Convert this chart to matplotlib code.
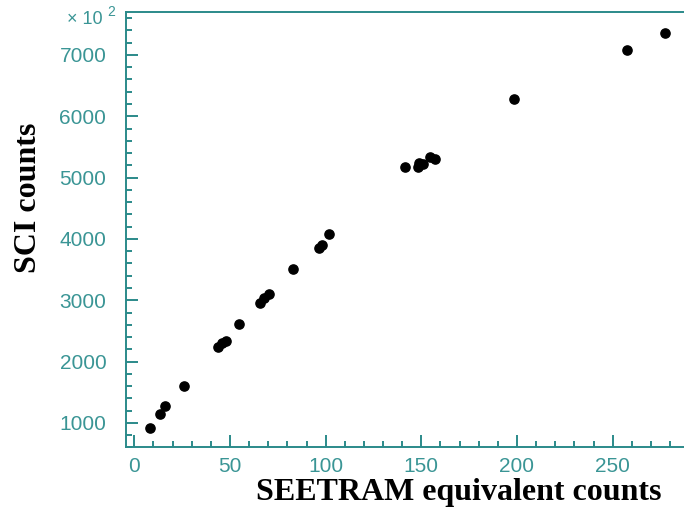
import matplotlib
matplotlib.use("Agg")
import matplotlib.pyplot as plt
from matplotlib.ticker import MultipleLocator

# SEETRAM equivalent counts vs SCI counts (y in units of 10^2)
seetram = [8.2, 13.4, 16.0, 26.1, 43.9, 45.8, 47.9, 54.7, 65.5, 68.0, 70.5,
           83.1, 96.7, 98.0, 101.9, 141.5, 148.5, 149.0, 151.1, 154.6, 157.2,
           198.5, 257.7, 277.4]
sci = [913, 1147, 1277, 1608, 2244, 2296, 2342, 2609, 2955, 3030, 3110,
       3511, 3848, 3902, 4082, 5179, 5169, 5244, 5222, 5342, 5304,
       6283, 7082, 7364]

teal = "#2b8a8a"

fig = plt.figure(figsize=(6.84, 5.12), dpi=100)
ax = fig.add_axes([0.1838, 0.126, 1 - 0.1838, 0.9766 - 0.126])

ax.scatter(seetram, sci, s=44, color="black", zorder=3)

ax.set_xlim(-4.5, 287.3)
ax.set_ylim(600, 7700)

ax.xaxis.set_major_locator(MultipleLocator(50))
ax.xaxis.set_minor_locator(MultipleLocator(10))
ax.yaxis.set_major_locator(MultipleLocator(1000))
ax.yaxis.set_minor_locator(MultipleLocator(200))

for side in ["left", "bottom", "top"]:
    ax.spines[side].set_color(teal)
    ax.spines[side].set_linewidth(1.4)
ax.spines["right"].set_visible(False)

ax.tick_params(which="both", direction="in", color=teal, width=1.4,
               labelcolor="#3a9595", labelsize=15)
ax.tick_params(which="major", length=8.6)
ax.tick_params(which="minor", length=4.3)
ax.tick_params(axis="y", pad=14)
ax.tick_params(axis="x", pad=7)
for lab in ax.get_xticklabels() + ax.get_yticklabels():
    lab.set_family("Liberation Sans")

fig.text(0.098, 0.962, "× 10", color="#3a9595", fontsize=13, family="Liberation Sans",
         ha="left", va="center")
fig.text(0.157, 0.976, "2", color="#3a9595", fontsize=10, family="Liberation Sans",
         ha="left", va="center")

fig.text(0.041, 0.613, "SCI counts", rotation=90, fontsize=23, fontweight="bold",
         family="Liberation Serif", ha="center", va="center")
fig.text(0.67, 0.039, "SEETRAM equivalent counts", fontsize=23, fontweight="bold",
         family="Liberation Serif", ha="center", va="center")

fig.savefig("out.png", dpi=100)
